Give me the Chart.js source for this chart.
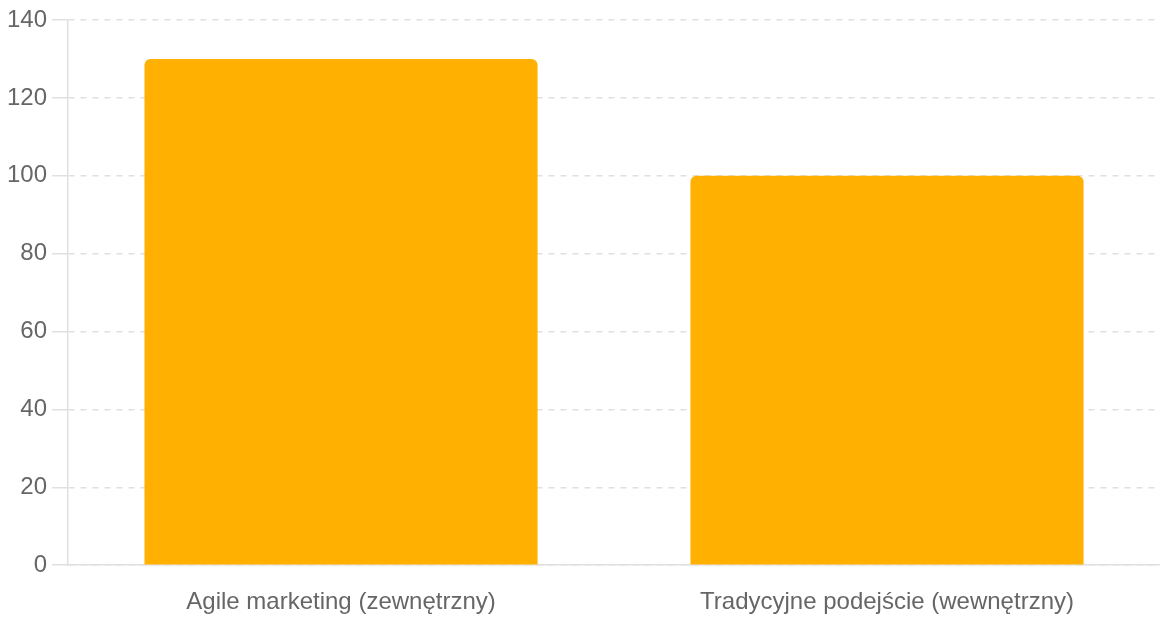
<!DOCTYPE html>
<html>
<head>
<meta charset="utf-8">
<script src="https://cdn.jsdelivr.net/npm/chart.js@4"></script>
<style>
  html, body { margin: 0; padding: 0; background: #fff; }
  #wrap { width: 1160px; height: 620px; }
</style>
</head>
<body>
<div id="wrap"><canvas id="barChart"></canvas></div>
<script>
const categories = ['Agile marketing (zewnętrzny)', 'Tradycyjne podejście (wewnętrzny)'];
const values = [130, 100];
const yTicks = { min: 0, max: 140, step: 20 };

const fontFamily = 'Liberation Sans, Arial, Helvetica, sans-serif';

const ctx = document.getElementById('barChart').getContext('2d');
new Chart(ctx, {
  type: 'bar',
  data: {
    labels: categories,
    datasets: [{
      data: values,
      backgroundColor: '#FFB000',
      borderRadius: 6,
      borderSkipped: 'bottom'
    }]
  },
  options: {
    responsive: true,
    maintainAspectRatio: false,
    animation: false,
    layout: { padding: { top: 20, right: 0, bottom: -20, left: 2 } },
    plugins: {
      legend: { display: false },
      tooltip: { enabled: false }
    },
    scales: {
      x: {
        grid: { display: false, drawTicks: false, tickLength: 0 },
        border: { color: '#e0e0e0', width: 1.5 },
        ticks: {
          color: '#666',
          padding: 23,
          maxRotation: 0,
          font: { family: fontFamily, size: 24 }
        }
      },
      y: {
        min: yTicks.min,
        max: yTicks.max,
        border: { color: '#e0e0e0', width: 1.5, dash: [6, 6] },
        grid: {
          color: '#e0e0e0',
          lineWidth: 1.5,
          tickLength: 16,
          tickBorderDash: [1, 0]
        },
        ticks: {
          stepSize: yTicks.step,
          color: '#666',
          padding: 5,
          font: { family: fontFamily, size: 24 }
        }
      }
    }
  }
});
</script>
</body>
</html>
